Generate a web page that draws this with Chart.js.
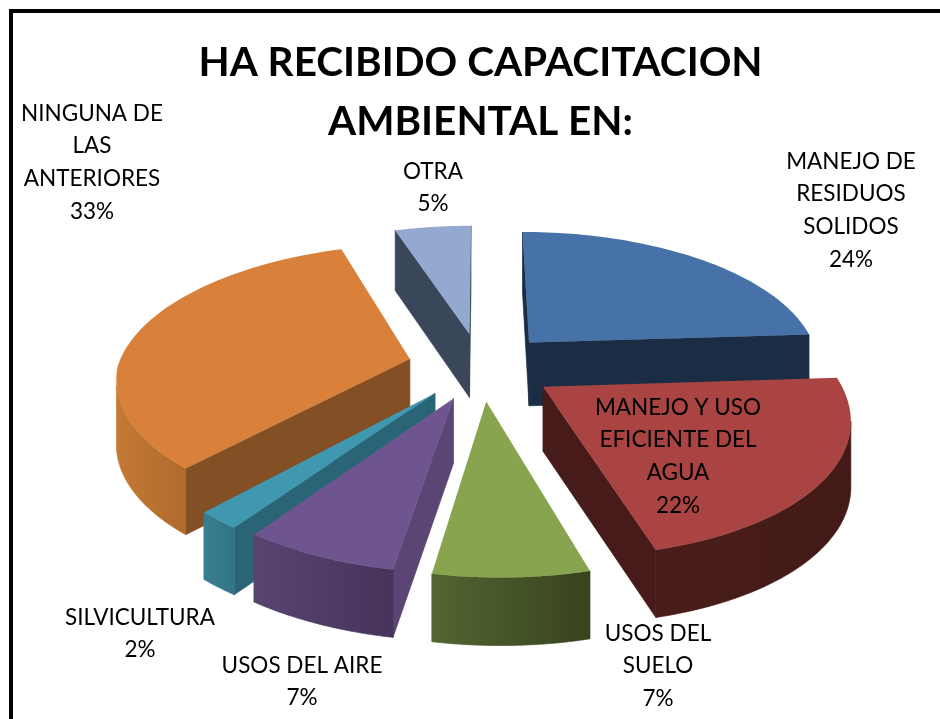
<!DOCTYPE html>
<html>
<head>
<meta charset="utf-8">
<script src="https://cdn.jsdelivr.net/npm/chart.js@4"></script>
<style>
  html, body { margin: 0; padding: 0; background: #fff; overflow: hidden; }
  #frame { position: absolute; left: 9px; top: 9px; width: 1000px; height: 1000px; border: 4px solid #000; pointer-events: none; }
  canvas { display: block; }
</style>
</head>
<body>
<canvas id="myChart" width="940" height="719"></canvas>
<div id="frame"></div>
<script>
//Data
const categories = [
  "MANEJO DE RESIDUOS SOLIDOS",
  "MANEJO Y USO EFICIENTE DEL AGUA",
  "USOS DEL SUELO",
  "USOS DEL AIRE",
  "SILVICULTURA",
  "NINGUNA DE LAS ANTERIORES",
  "OTRA",
];
const percents = [24, 22, 7, 7, 2, 33, 5];
const labelLines = [
  ["MANEJO DE", "RESIDUOS", "SOLIDOS"],
  ["MANEJO Y USO", "EFICIENTE DEL", "AGUA"],
  ["USOS DEL", "SUELO"],
  ["USOS DEL AIRE"],
  ["SILVICULTURA"],
  ["NINGUNA DE", "LAS", "ANTERIORES"],
  ["OTRA"],
];
const titleLines = ["HA RECIBIDO CAPACITACION", "AMBIENTAL EN:"];

//Styles
const topColors = ["#4672a8", "#a94442", "#88a44e", "#6f5590", "#3f97b0", "#d9803a", "#93a9d0"];
const cutColors = ["#1b2d45", "#461b19", "#4a5c2b", "#5b4575", "#2a6577", "#834f25", "#3a4659"];
const wallLeft = ["#1b2d45", "#491d1a", "#536531", "#574470", "#3a7d91", "#c47a35", "#3a4659"];
const wallRight = ["#1b2d45", "#431a18", "#38431f", "#46345b", "#327387", "#b06a2c", "#3a4659"];
const labelCenterX = [851, 678, 658, 302, 140, 92, 433];
const labelFirstY = [161.5, 407.5, 633.5, 665.5, 617.5, 113.5, 171.5];
const labelStep = 32.7;

const pieRadius = 292;
const tilt = 0.463;
const perspective = 0.16;
const frontSkew = 13.5;
const depth = 64;
const explodePercent = 25;

function project(arc, mx, my) {
  let w = 1 + perspective * my;
  return {
    x: arc.x + (mx * arc.outerRadius) / w + frontSkew * Math.max(0, -my),
    y: arc.y - (my * arc.outerRadius * tilt) / w,
    d: depth * (1 - 0.05 * my),
  };
}

function fillWall(ctx, run, fill) {
  ctx.beginPath();
  run.forEach((p, i) => (i ? ctx.lineTo(p.x, p.y) : ctx.moveTo(p.x, p.y)));
  for (let i = run.length - 1; i >= 0; i--) {
    ctx.lineTo(run[i].x, run[i].y + run[i].d);
  }
  ctx.closePath();
  ctx.fillStyle = fill;
  ctx.strokeStyle = fill;
  ctx.lineWidth = 0.7;
  ctx.fill();
  ctx.stroke();
}

function drawSlice(ctx, arc, i) {
  let explode = arc.options.offset / 100;
  let mid = (arc.startAngle + arc.endAngle) / 2;
  let tipX = explode * Math.cos(mid);
  let tipY = -explode * Math.sin(mid);
  let tip = project(arc, tipX, tipY);

  let rim = [];
  let steps = 60;
  for (let s = 0; s <= steps; s++) {
    let a = arc.startAngle + ((arc.endAngle - arc.startAngle) * s) / steps;
    rim.push(project(arc, tipX + Math.cos(a), tipY - Math.sin(a)));
  }

  //cut faces, only when they look at the viewer
  let first = rim[0];
  let last = rim[rim.length - 1];
  if (first.x < tip.x) fillWall(ctx, [tip, first], cutColors[i]);
  if (tip.x < last.x) fillWall(ctx, [last, tip], cutColors[i]);

  //outer wall, the part of the rim running right to left
  let run = rim.filter((p, s) => (s < steps ? rim[s + 1].x < p.x : rim[s - 1].x > p.x));
  if (run.length > 1) {
    let grad = ctx.createLinearGradient(run[run.length - 1].x, 0, run[0].x, 0);
    grad.addColorStop(0, wallLeft[i]);
    grad.addColorStop(1, wallRight[i]);
    fillWall(ctx, run, grad);
  }

  //top face
  ctx.beginPath();
  ctx.moveTo(tip.x, tip.y);
  rim.forEach((p) => ctx.lineTo(p.x, p.y));
  ctx.closePath();
  ctx.fillStyle = arc.options.backgroundColor;
  ctx.fill();
}

const pie3d = {
  id: "pie3d",
  beforeDatasetDraw(chart, args) {
    let ctx = chart.ctx;
    let arcs = args.meta.data.map((arc, i) => ({ arc, i }));
    //back to front
    arcs.sort((a, b) => {
      let mida = (a.arc.startAngle + a.arc.endAngle) / 2;
      let midb = (b.arc.startAngle + b.arc.endAngle) / 2;
      return Math.sin(mida) - Math.sin(midb);
    });
    arcs.forEach((item) => drawSlice(ctx, item.arc, item.i));
    return false;
  },
  afterDatasetsDraw(chart) {
    let ctx = chart.ctx;
    ctx.save();
    ctx.font = "22.5px Lato";
    ctx.fillStyle = "#000";
    ctx.textAlign = "center";
    ctx.textBaseline = "middle";
    labelLines.forEach((lines, i) => {
      let all = lines.concat(percents[i] + "%");
      all.forEach((line, n) => {
        ctx.fillText(line, labelCenterX[i], labelFirstY[i] + n * labelStep);
      });
    });
    ctx.restore();
  },
};

new Chart(document.querySelector("#myChart"), {
  type: "pie",
  plugins: [pie3d],
  data: {
    labels: categories,
    datasets: [
      {
        data: percents,
        backgroundColor: topColors,
        borderWidth: 0,
        offset: explodePercent,
      },
    ],
  },
  options: {
    responsive: false,
    animation: false,
    radius: pieRadius,
    layout: { padding: { left: 21, bottom: 145 } },
    plugins: {
      legend: { display: false },
      tooltip: { enabled: false },
      title: {
        display: true,
        text: titleLines,
        color: "#000",
        font: { family: "Lato", size: 40.5, weight: "bold", lineHeight: 1.44 },
        padding: { top: 34, bottom: 8 },
      },
    },
  },
});
</script>
</body>
</html>
